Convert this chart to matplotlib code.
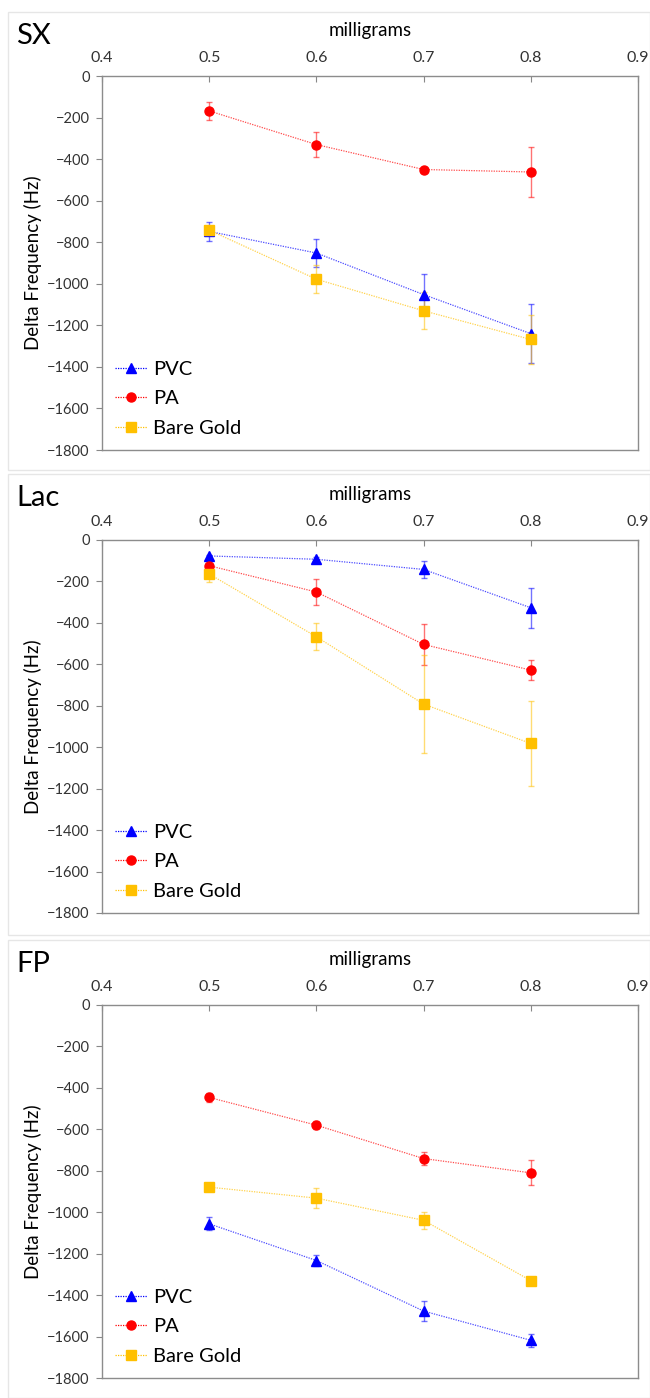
import numpy as np
import matplotlib
matplotlib.use("Agg")
import matplotlib.pyplot as plt
from matplotlib.patches import Rectangle

plt.rcParams['font.family'] = ['Lato', 'DejaVu Sans']

mg = [0.5, 0.6, 0.7, 0.8]
series = ["PVC", "PA", "Bare Gold"]
colors = {"PVC": "#0000FF", "PA": "#FF0000", "Bare Gold": "#FFC000"}
markers = {"PVC": "^", "PA": "o", "Bare Gold": "s"}

# SX panel
sx_pvc = [-748, -852, -1052, -1240]
sx_pvc_err = [47, 68, 100, 142]
sx_pa = [-168, -330, -450, -462]
sx_pa_err = [42, 62, 6, 120]
sx_gold = [-742, -978, -1130, -1268]
sx_gold_err = [10, 67, 90, 117]

# Lac panel
lac_pvc = [-77, -93, -142, -327]
lac_pvc_err = [6, 10, 41, 96]
lac_pa = [-124, -251, -504, -628]
lac_pa_err = [10, 61, 100, 48]
lac_gold = [-164, -467, -792, -982]
lac_gold_err = [41, 65, 235, 204]

# FP panel
fp_pvc = [-1056, -1233, -1477, -1618]
fp_pvc_err = [32, 28, 47, 30]
fp_pa = [-446, -580, -741, -810]
fp_pa_err = [20, 20, 30, 60]
fp_gold = [-879, -932, -1039, -1330]
fp_gold_err = [8, 48, 41, 12]

panels = [
    ("SX", {"PVC": (sx_pvc, sx_pvc_err), "PA": (sx_pa, sx_pa_err), "Bare Gold": (sx_gold, sx_gold_err)}),
    ("Lac", {"PVC": (lac_pvc, lac_pvc_err), "PA": (lac_pa, lac_pa_err), "Bare Gold": (lac_gold, lac_gold_err)}),
    ("FP", {"PVC": (fp_pvc, fp_pvc_err), "PA": (fp_pa, fp_pa_err), "Bare Gold": (fp_gold, fp_gold_err)}),
]

W, H = 650, 1398
fig = plt.figure(figsize=(W / 100, H / 100), dpi=100)

# (axes top px, axes bottom px, panel box top px, panel box bottom px)
layout = [(76, 450, 12, 470), (540, 913, 474, 935), (1005, 1378, 940, 1398)]
left_px, right_px = 102, 638

for (name, data), (top, bot, btop, bbot) in zip(panels, layout):
    # light gray panel frame
    fig.patches.append(Rectangle((8 / W, 1 - bbot / H), (W - 8) / W, (bbot - btop) / H,
                                 transform=fig.transFigure, fill=False,
                                 edgecolor="#e6e6e6", lw=1))
    ax = fig.add_axes([left_px / W, 1 - bot / H, (right_px - left_px) / W, (bot - top) / H])
    for s in series:
        y, e = data[s]
        c = colors[s]
        ax.errorbar(mg, y, yerr=e, fmt="none", ecolor=c, alpha=0.55,
                    elinewidth=1, capsize=2, capthick=1, zorder=2)
        ax.plot(mg, y, linestyle=(0, (1, 1)), lw=0.9, color=c, alpha=0.7, zorder=3)
        ax.plot(mg, y, linestyle="none", marker=markers[s], ms=6.5, color=c, zorder=4)
        ax.plot([], [], linestyle=(0, (1, 1)), lw=0.9, color=c,
                marker=markers[s], ms=6.5, label=s)
    ax.set_xlim(0.4, 0.9)
    ax.set_ylim(-1800, 0)
    ax.set_xticks([0.4, 0.5, 0.6, 0.7, 0.8, 0.9])
    ax.set_yticks(np.arange(-1800, 1, 200))
    ax.xaxis.tick_top()
    ax.xaxis.set_label_position("top")
    ax.tick_params(axis="x", direction="in", length=4, color="#888888",
                   labelsize=11.5, labelcolor="#333333", pad=8)
    ax.tick_params(axis="y", direction="out", length=4, color="#888888",
                   labelsize=10.5, labelcolor="#333333", pad=5)
    for sp in ax.spines.values():
        sp.set_color("#8c8c8c")
        sp.set_linewidth(1)
    ax.set_xlabel("milligrams", fontsize=13.5, labelpad=11)
    ax.set_ylabel("Delta Frequency (Hz)", fontsize=13.5, va="center")
    ax.yaxis.set_label_coords(-0.128, 0.5)
    ax.legend(loc="lower left", frameon=False, fontsize=14.5, handlelength=1.6,
              handletextpad=0.3, labelspacing=0.62, borderaxespad=0.25)
    fig.text(16 / W, 1 - (btop + 24) / H, name, fontsize=21, ha="left", va="center")

fig.savefig("out.png", dpi=100)
